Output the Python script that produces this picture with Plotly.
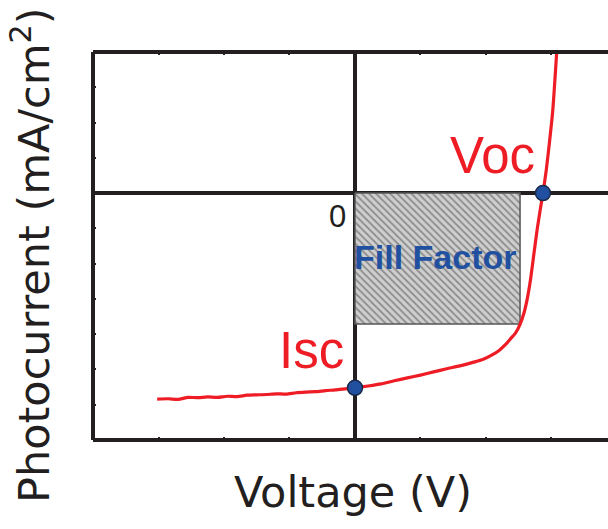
import plotly.graph_objects as go

# J-V curve (Voltage in arbitrary tick units, photocurrent in tick units)
curve_v = [-3.02, -2.85, -2.7, -2.55, -2.4, -2.25, -2.1, -1.95, -1.8, -1.65, -1.5, -1.35,
           -1.2, -1.05, -0.9, -0.75, -0.6, -0.45, -0.3, -0.15, 0.0, 0.2, 0.4, 0.6, 0.8,
           1.0, 1.2, 1.4, 1.6, 1.8, 1.95, 2.1, 2.2, 2.3, 2.38, 2.45, 2.52, 2.58, 2.63,
           2.68, 2.73, 2.78, 2.83, 2.87, 2.92, 2.97, 3.02, 3.08]
curve_j = [-5.84, -5.83, -5.85, -5.79, -5.80, -5.78, -5.79, -5.76, -5.77, -5.73, -5.72, -5.71,
           -5.69, -5.70, -5.66, -5.64, -5.63, -5.60, -5.58, -5.55, -5.52, -5.47, -5.41, -5.32, -5.24,
           -5.16, -5.07, -4.98, -4.90, -4.80, -4.72, -4.58, -4.46, -4.29, -4.12, -3.97, -3.72, -3.40, -3.00,
           -2.45, -1.75, -1.05, -0.45, 0.0, 0.65, 1.45, 2.35, 4.0]

# Fill factor rectangle (maximum power point corner)
ff_v = [0, 2.52, 2.52, 0, 0]
ff_j = [0, 0, -3.71, -3.71, 0]

# Key points
point_v = [0, 2.87]
point_j = [-5.52, 0]

RED = "#ee1c25"
BLUE = "#2150a0"
DARK = "#231f20"
FONT = "Liberation Sans, Arial, sans-serif"
TFONT = "DejaVu Sans, sans-serif"

fig = go.Figure()

fig.add_trace(go.Scatter(
    x=ff_v, y=ff_j, mode="lines", fill="toself",
    fillcolor="#c9c9c9",
    fillpattern=dict(shape="\\", bgcolor="#cfcfcf", fgcolor="#4a4a4a", size=5, solidity=0.35),
    line=dict(color="#555555", width=1.5), hoverinfo="skip", showlegend=False))

fig.add_trace(go.Scatter(
    x=curve_v, y=curve_j, mode="lines",
    line=dict(color=RED, width=3.2, shape="spline", smoothing=0.6),
    hoverinfo="skip", showlegend=False))

fig.add_trace(go.Scatter(
    x=point_v, y=point_j, mode="markers",
    marker=dict(color=BLUE, size=15, line=dict(color="#1a2a4a", width=1.5)),
    hoverinfo="skip", showlegend=False))

fig.update_xaxes(
    range=[-4, 3.863], showgrid=False, showticklabels=False,
    zeroline=True, zerolinecolor=DARK, zerolinewidth=4,
    ticks="inside", ticklen=3, tickwidth=1.5, tickcolor=DARK,
    dtick=1, tick0=0, mirror="ticks", showline=False)
fig.update_yaxes(
    range=[-7, 4], showgrid=False, showticklabels=False,
    zeroline=True, zerolinecolor=DARK, zerolinewidth=4,
    ticks="inside", ticklen=3, tickwidth=1.5, tickcolor=DARK,
    dtick=1, tick0=0, showline=False)

# Frame (left, top, bottom; right side is cropped)
for x0, y0, x1, y1 in [(0, 0, 0, 1), (0, 1, 1.01, 1), (0, 0, 1.01, 0)]:
    fig.add_shape(type="line", xref="paper", yref="paper", x0=x0, y0=y0, x1=x1, y1=y1,
                  line=dict(color=DARK, width=4), layer="above")

annotations = [
    dict(text="Fill Factor", x=1.22, y=-1.8, font=dict(size=34, color=BLUE, family=FONT, weight="bold")),
    dict(text="Voc", x=2.1, y=1.08, font=dict(size=51, color=RED, family=FONT)),
    dict(text="Isc", x=-0.67, y=-4.45, font=dict(size=51, color=RED, family=FONT)),
    dict(text="0", x=-0.26, y=-0.65, font=dict(size=31, color=DARK, family=FONT)),
]
for a in annotations:
    fig.add_annotation(xref="x", yref="y", showarrow=False, xanchor="center", yanchor="middle", **a)

fig.add_annotation(text="Voltage (V)", xref="paper", yref="paper",
                   x=(353 - 93) / 515, y=-(492 - 440) / 388, showarrow=False,
                   xanchor="center", yanchor="middle",
                   font=dict(size=43, color=DARK, family=TFONT))
fig.add_annotation(text="Photocurrent (mA/cm<sup>2</sup>)", xref="paper", yref="paper",
                   x=(31 - 93) / 515, y=(440 - 256) / 388, showarrow=False, textangle=-90,
                   xanchor="center", yanchor="middle",
                   font=dict(size=43, color=DARK, family=TFONT))

fig.update_layout(
    width=608, height=529,
    margin=dict(l=93, r=0, t=52, b=89),
    paper_bgcolor="white", plot_bgcolor="white",
    hovermode=False,
)

fig.write_html("out.html")
